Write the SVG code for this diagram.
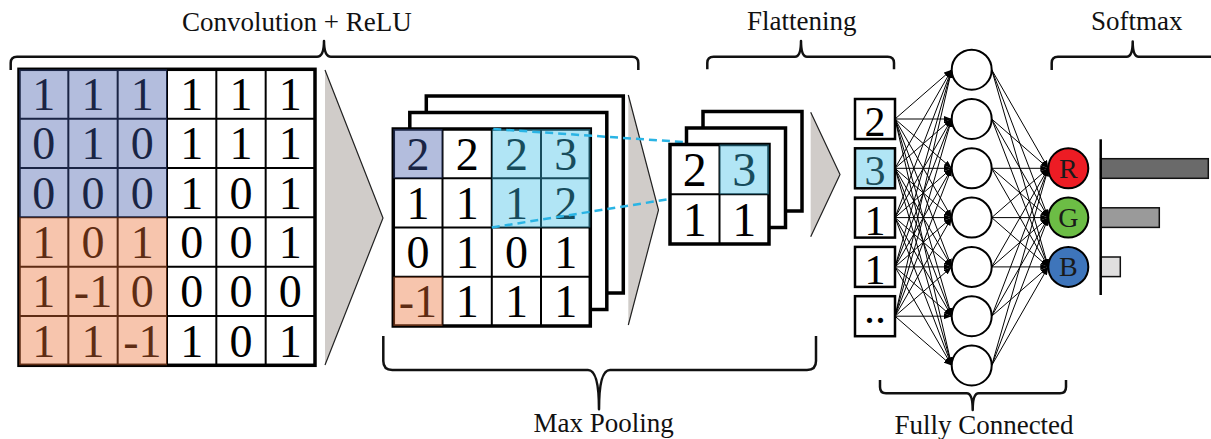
<svg xmlns="http://www.w3.org/2000/svg" width="1211" height="439" viewBox="0 0 1211 439">
  <style>
    .lbl { font-family: "Liberation Serif", "Times New Roman", serif; font-size: 27px; fill: #111; }
    .dg { font-family: "Liberation Serif", "Times New Roman", serif; font-size: 46px; text-anchor: middle; fill: #000; }
    .dg2 { font-family: "Liberation Serif", "Times New Roman", serif; font-size: 48px; text-anchor: middle; fill: #000; }
    .dgf { font-family: "Liberation Serif", "Times New Roman", serif; font-size: 42px; text-anchor: middle; fill: #000; }
    .dots { font-family: "Liberation Serif", "Times New Roman", serif; font-size: 32px; font-weight: bold; letter-spacing: 3px; text-anchor: middle; fill: #000; }
    .rgb { font-family: "Liberation Serif", "Times New Roman", serif; font-size: 28px; text-anchor: middle; fill: #1a1a1a; }
    .outer { fill: none; stroke: #000; stroke-width: 3.5; }
    .inner { fill: none; stroke: #000; stroke-width: 2; }
    .sheet { fill: #fff; stroke: #000; stroke-width: 3.5; }
    .brace { fill: none; stroke: #111; stroke-width: 2.5; stroke-linejoin: round; }
    .ov-blue { fill: rgb(65, 90, 170); fill-opacity: 0.4; }
    .ov-orange { fill: rgb(235, 110, 50); fill-opacity: 0.4; }
    .ov-cyan { fill: rgb(60, 190, 230); fill-opacity: 0.4; }
    .tri { fill: #d0ccc9; stroke: none; }
    .tri-edge { fill: none; stroke: #222; stroke-width: 1.2; stroke-linejoin: miter; }
    .dash { fill: none; stroke: #2ab4e4; stroke-width: 2.5; stroke-dasharray: 8 5; }
    #connectors line { stroke: #000; stroke-width: 1; marker-end: url(#ah); }
    .neuron { fill: #fff; stroke: #000; stroke-width: 2; }
    .box { fill: #fff; stroke: #000; stroke-width: 2.5; }
    .bar { stroke: #111; stroke-width: 1.5; }
  </style>
  <defs>
    <marker id="ah" viewBox="0 0 8 6" refX="8" refY="3" markerWidth="8" markerHeight="6" markerUnits="userSpaceOnUse" orient="auto" preserveAspectRatio="none">
      <path d="M0,0 L8,3 L0,6 z" fill="#000"/>
    </marker>
  </defs>

  <rect width="1211" height="439" fill="#fff"/>

  <!-- stage labels and braces -->
  <g id="labels">
    <text class="lbl" x="182" y="31">Convolution + ReLU</text>
    <path class="brace" d="M10.7,70 L10.7,63 Q10.7,56.7 17,56.7 L317,56.7 Q324,56.7 324,41 Q324,56.7 331,56.7 L632,56.7 Q638.3,56.7 638.3,63 L638.3,70"/>
    <text class="lbl" x="801.7" y="30" text-anchor="middle">Flattening</text>
    <path class="brace" d="M707.3,69.3 L707.3,63 Q707.3,56.7 713.6,56.7 L795,56.7 Q801,56.7 801,41 Q801,56.7 807,56.7 L887.7,56.7 Q894,56.7 894,63 L894,69.3"/>
    <text class="lbl" x="1136.7" y="30" text-anchor="middle">Softmax</text>
    <path class="brace" d="M1051.7,70 L1051.7,63 Q1051.7,56.7 1058,56.7 L1126.7,56.7 Q1132.7,56.7 1132.7,41.5 Q1132.7,56.7 1138.7,56.7 L1215,56.7"/>
    <path class="brace" d="M383.3,336 L383.3,361 Q383.3,370 392.3,370 L588,370 Q599,370 599,409.3 Q599,370 610,370 L807,370 Q816,370 816,361 L816,336"/>
    <text class="lbl" x="603.7" y="431.7" text-anchor="middle">Max Pooling</text>
    <path class="brace" d="M880,380 L880,387 Q880,393.3 886,393.3 L966.7,393.3 Q972.7,393.3 972.7,410 Q972.7,393.3 978.7,393.3 L1060,393.3 Q1066,393.3 1066,387 L1066,380"/>
    <text class="lbl" x="984" y="434" text-anchor="middle">Fully Connected</text>
  </g>

  <!-- 6x6 input feature map -->
  <g id="input-map">
    <rect x="19" y="69.3" width="296" height="296" fill="#fff"/>
    <path class="inner" d="M68.33,69.3V365.3 M117.67,69.3V365.3 M167,69.3V365.3 M216.33,69.3V365.3 M265.67,69.3V365.3 M19,118.63H315 M19,167.97H315 M19,217.3H315 M19,266.63H315 M19,315.97H315"/>
    <rect class="outer" x="19" y="69.3" width="296" height="296"/>
    <g class="dg">
      <text x="43.67" y="110">1</text><text x="93" y="110">1</text><text x="142.33" y="110">1</text><text x="191.67" y="110">1</text><text x="241" y="110">1</text><text x="290.33" y="110">1</text>
      <text x="43.67" y="159.3">0</text><text x="93" y="159.3">1</text><text x="142.33" y="159.3">0</text><text x="191.67" y="159.3">1</text><text x="241" y="159.3">1</text><text x="290.33" y="159.3">1</text>
      <text x="43.67" y="208.6">0</text><text x="93" y="208.6">0</text><text x="142.33" y="208.6">0</text><text x="191.67" y="208.6">1</text><text x="241" y="208.6">0</text><text x="290.33" y="208.6">1</text>
      <text x="43.67" y="258">1</text><text x="93" y="258">0</text><text x="142.33" y="258">1</text><text x="191.67" y="258">0</text><text x="241" y="258">0</text><text x="290.33" y="258">1</text>
      <text x="43.67" y="307.3">1</text><text x="93" y="307.3">-1</text><text x="142.33" y="307.3">0</text><text x="191.67" y="307.3">0</text><text x="241" y="307.3">0</text><text x="290.33" y="307.3">0</text>
      <text x="43.67" y="356.6">1</text><text x="93" y="356.6">1</text><text x="142.33" y="356.6">-1</text><text x="191.67" y="356.6">1</text><text x="241" y="356.6">0</text><text x="290.33" y="356.6">1</text>
    </g>
    <rect class="ov-blue" x="19" y="69.3" width="148" height="148"/>
    <rect class="ov-orange" x="19" y="217.3" width="148" height="148"/>
  </g>

  <g id="step-1">
    <polygon class="tri" points="325,70 383,218 325,365"/>
    <polyline class="tri-edge" points="325,70 383,218 325,365"/>
  </g>

  <!-- pooled feature maps (stack of three) -->
  <g id="pooled-map">
    <rect class="sheet" x="426.3" y="96" width="197" height="197"/>
    <rect class="sheet" x="409.8" y="112.5" width="197" height="197"/>
    <rect x="393.3" y="129" width="197" height="197" fill="#fff"/>
    <path class="inner" d="M442.5,129V326 M491.8,129V326 M541,129V326 M393.3,178.25H590.3 M393.3,227.5H590.3 M393.3,276.75H590.3"/>
    <rect class="outer" x="393.3" y="129" width="197" height="197"/>
    <g class="dg">
      <text x="417.9" y="169.6">2</text><text x="467.2" y="169.6">2</text><text x="516.4" y="169.6">2</text><text x="565.7" y="169.6">3</text>
      <text x="417.9" y="218.9">1</text><text x="467.2" y="218.9">1</text><text x="516.4" y="218.9">1</text><text x="565.7" y="218.9">2</text>
      <text x="417.9" y="268.1">0</text><text x="467.2" y="268.1">1</text><text x="516.4" y="268.1">0</text><text x="565.7" y="268.1">1</text>
      <text x="417.9" y="317.4">-1</text><text x="467.2" y="317.4">1</text><text x="516.4" y="317.4">1</text><text x="565.7" y="317.4">1</text>
    </g>
    <rect class="ov-blue" x="393.3" y="129" width="49.2" height="49.25"/>
    <rect class="ov-cyan" x="491.8" y="129" width="98.5" height="98.5"/>
    <rect class="ov-orange" x="393.3" y="276.75" width="49.2" height="49.25"/>
  </g>

  <g id="step-2">
    <polygon class="tri" points="628.3,95 658.5,210 628.3,325"/>
    <polyline class="tri-edge" points="628.3,95 658.5,210 628.3,325"/>
  </g>

  <!-- pooling window projection -->
  <g id="projection">
    <line class="dash" x1="493.3" y1="129" x2="719.5" y2="144.5"/>
    <line class="dash" x1="491.8" y1="227.5" x2="670" y2="199"/>
  </g>

  <!-- 2x2 maps (stack of three) -->
  <g id="small-map">
    <rect class="sheet" x="703" y="111.5" width="99" height="99.5"/>
    <rect class="sheet" x="686.5" y="128" width="99" height="99.5"/>
    <rect x="670" y="144.5" width="99" height="99.5" fill="#fff"/>
    <path class="inner" d="M719.5,144.5V244 M670,194.3H769"/>
    <rect class="outer" x="670" y="144.5" width="99" height="99.5"/>
    <g class="dg2">
      <text x="694.75" y="186">2</text><text x="744.25" y="186">3</text>
      <text x="694.75" y="235.5">1</text><text x="744.25" y="235.5">1</text>
    </g>
    <rect class="ov-cyan" x="719.5" y="144.5" width="49.5" height="49.8"/>
  </g>

  <g id="step-3">
    <polygon class="tri" points="810.7,112.3 840,174.5 810.7,236.7"/>
    <polyline class="tri-edge" points="810.7,112.3 840,174.5 810.7,236.7"/>
  </g>

  <!-- fully connected links -->
  <g id="connectors">
    <line x1="895" y1="119" x2="951.7" y2="69.7"/><line x1="895" y1="119" x2="951.7" y2="119"/><line x1="895" y1="119" x2="951.7" y2="168.3"/><line x1="895" y1="119" x2="951.7" y2="217.6"/><line x1="895" y1="119" x2="951.7" y2="266.9"/><line x1="895" y1="119" x2="951.7" y2="316.2"/><line x1="895" y1="119" x2="951.7" y2="365.5"/>
    <line x1="895" y1="168.3" x2="951.7" y2="69.7"/><line x1="895" y1="168.3" x2="951.7" y2="119"/><line x1="895" y1="168.3" x2="951.7" y2="168.3"/><line x1="895" y1="168.3" x2="951.7" y2="217.6"/><line x1="895" y1="168.3" x2="951.7" y2="266.9"/><line x1="895" y1="168.3" x2="951.7" y2="316.2"/><line x1="895" y1="168.3" x2="951.7" y2="365.5"/>
    <line x1="895" y1="217.6" x2="951.7" y2="69.7"/><line x1="895" y1="217.6" x2="951.7" y2="119"/><line x1="895" y1="217.6" x2="951.7" y2="168.3"/><line x1="895" y1="217.6" x2="951.7" y2="217.6"/><line x1="895" y1="217.6" x2="951.7" y2="266.9"/><line x1="895" y1="217.6" x2="951.7" y2="316.2"/><line x1="895" y1="217.6" x2="951.7" y2="365.5"/>
    <line x1="895" y1="266.9" x2="951.7" y2="69.7"/><line x1="895" y1="266.9" x2="951.7" y2="119"/><line x1="895" y1="266.9" x2="951.7" y2="168.3"/><line x1="895" y1="266.9" x2="951.7" y2="217.6"/><line x1="895" y1="266.9" x2="951.7" y2="266.9"/><line x1="895" y1="266.9" x2="951.7" y2="316.2"/><line x1="895" y1="266.9" x2="951.7" y2="365.5"/>
    <line x1="895" y1="316.2" x2="951.7" y2="69.7"/><line x1="895" y1="316.2" x2="951.7" y2="119"/><line x1="895" y1="316.2" x2="951.7" y2="168.3"/><line x1="895" y1="316.2" x2="951.7" y2="217.6"/><line x1="895" y1="316.2" x2="951.7" y2="266.9"/><line x1="895" y1="316.2" x2="951.7" y2="316.2"/><line x1="895" y1="316.2" x2="951.7" y2="365.5"/>
    <line x1="991.7" y1="69.7" x2="1048.3" y2="168.3"/><line x1="991.7" y1="69.7" x2="1048.3" y2="217.6"/><line x1="991.7" y1="69.7" x2="1048.3" y2="266.9"/>
    <line x1="991.7" y1="119" x2="1048.3" y2="168.3"/><line x1="991.7" y1="119" x2="1048.3" y2="217.6"/><line x1="991.7" y1="119" x2="1048.3" y2="266.9"/>
    <line x1="991.7" y1="168.3" x2="1048.3" y2="168.3"/><line x1="991.7" y1="168.3" x2="1048.3" y2="217.6"/><line x1="991.7" y1="168.3" x2="1048.3" y2="266.9"/>
    <line x1="991.7" y1="217.6" x2="1048.3" y2="168.3"/><line x1="991.7" y1="217.6" x2="1048.3" y2="217.6"/><line x1="991.7" y1="217.6" x2="1048.3" y2="266.9"/>
    <line x1="991.7" y1="266.9" x2="1048.3" y2="168.3"/><line x1="991.7" y1="266.9" x2="1048.3" y2="217.6"/><line x1="991.7" y1="266.9" x2="1048.3" y2="266.9"/>
    <line x1="991.7" y1="316.2" x2="1048.3" y2="168.3"/><line x1="991.7" y1="316.2" x2="1048.3" y2="217.6"/><line x1="991.7" y1="316.2" x2="1048.3" y2="266.9"/>
    <line x1="991.7" y1="365.5" x2="1048.3" y2="168.3"/><line x1="991.7" y1="365.5" x2="1048.3" y2="217.6"/><line x1="991.7" y1="365.5" x2="1048.3" y2="266.9"/>
  </g>

  <!-- flattened vector -->
  <g id="flat-1"><rect class="box" x="855" y="99" width="40" height="40"/><text class="dgf" x="875" y="136">2</text></g>
  <g id="flat-2"><rect class="box" x="855" y="148.3" width="40" height="40" style="fill:#b1e5f5"/><text class="dgf" x="875" y="185.3" style="fill:#1d4f5c">3</text></g>
  <g id="flat-3"><rect class="box" x="855" y="197.6" width="40" height="40"/><text class="dgf" x="875" y="234.6">1</text></g>
  <g id="flat-4"><rect class="box" x="855" y="246.9" width="40" height="40"/><text class="dgf" x="875" y="283.9">1</text></g>
  <g id="flat-5"><rect class="box" x="855" y="296.2" width="40" height="40"/><text class="dots" x="876.5" y="323">..</text></g>

  <!-- hidden layer -->
  <g id="hidden-1"><circle class="neuron" cx="971.7" cy="69.7" r="20"/></g>
  <g id="hidden-2"><circle class="neuron" cx="971.7" cy="119" r="20"/></g>
  <g id="hidden-3"><circle class="neuron" cx="971.7" cy="168.3" r="20"/></g>
  <g id="hidden-4"><circle class="neuron" cx="971.7" cy="217.6" r="20"/></g>
  <g id="hidden-5"><circle class="neuron" cx="971.7" cy="266.9" r="20"/></g>
  <g id="hidden-6"><circle class="neuron" cx="971.7" cy="316.2" r="20"/></g>
  <g id="hidden-7"><circle class="neuron" cx="971.7" cy="365.5" r="20"/></g>

  <!-- output classes -->
  <g id="out-r"><circle class="neuron" cx="1068.3" cy="168.3" r="20" style="fill:#ed1c24"/><text class="rgb" x="1068.3" y="177.8">R</text></g>
  <g id="out-g"><circle class="neuron" cx="1068.3" cy="217.6" r="20" style="fill:#6cbd45"/><text class="rgb" x="1068.3" y="227.1">G</text></g>
  <g id="out-b"><circle class="neuron" cx="1068.3" cy="266.9" r="20" style="fill:#3e75bb"/><text class="rgb" x="1068.3" y="276.4">B</text></g>

  <!-- softmax probabilities -->
  <g id="softmax-bars">
    <rect class="bar" x="1100.7" y="158.7" width="107.6" height="19.6" fill="#6a6a6a"/>
    <rect class="bar" x="1100.7" y="207.8" width="58.6" height="19.6" fill="#9a9a9a"/>
    <rect class="bar" x="1100.7" y="257" width="19.6" height="19.6" fill="#e0dfdf"/>
    <line x1="1100.7" y1="139.3" x2="1100.7" y2="295" stroke="#000" stroke-width="2.5"/>
  </g>
</svg>
